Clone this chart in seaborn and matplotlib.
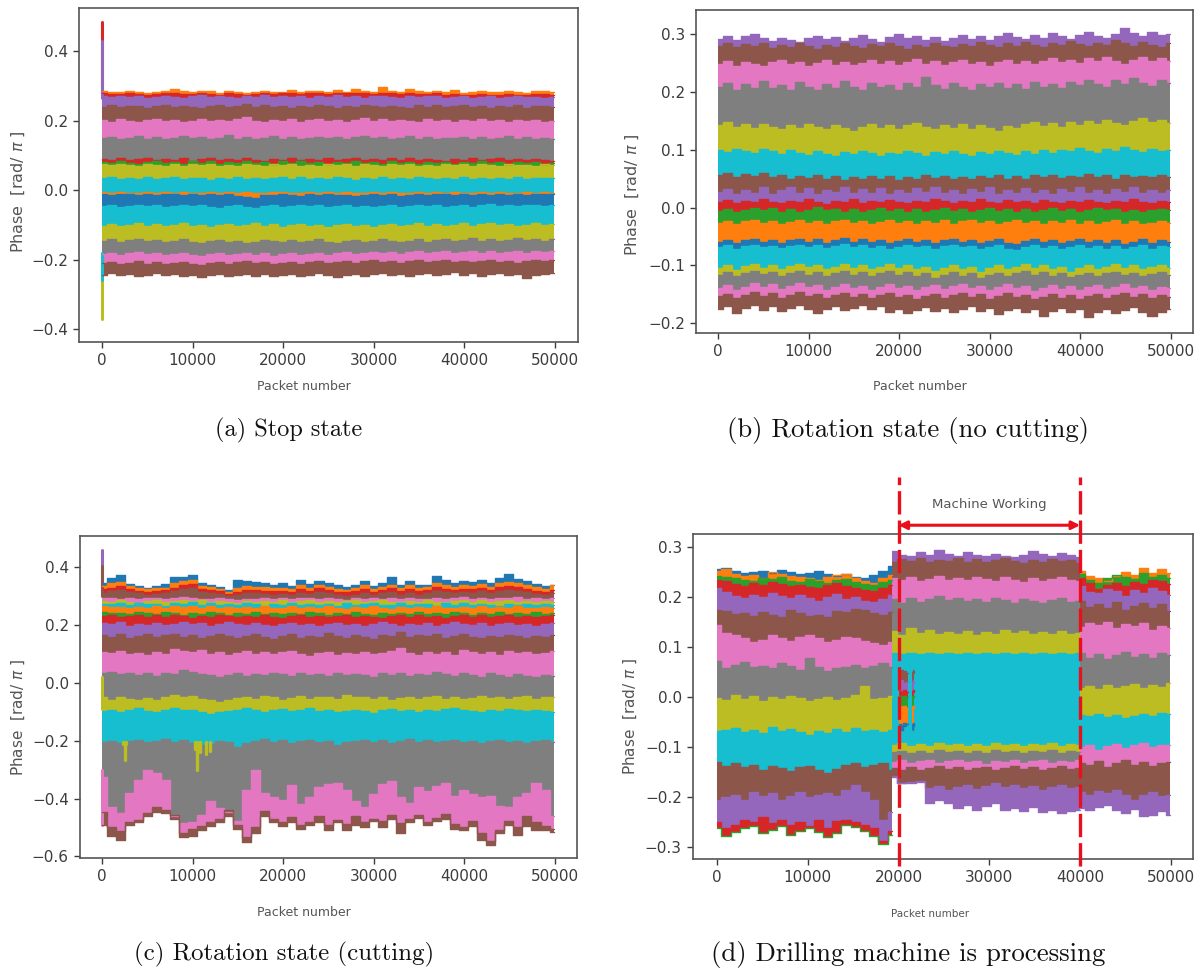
import numpy as np
import matplotlib
matplotlib.use("Agg")
import matplotlib.pyplot as plt
import seaborn as sns

# Each list is the upper edge of one coloured band, left to right.

# (a) stop state
a_orange = [286, 283, 281, 285, 283, 279, 281, 284, 291, 284, 282, 285, 284, 280, 286, 282, 280, 283, 285, 281, 283, 287, 282, 284, 285, 281, 287, 283, 291, 286, 283, 297, 285, 282, 290, 284, 283, 286, 281, 288, 280, 283, 284, 281, 282, 285, 281, 279, 284, 286, 282]
a_red = [279, 277, 276, 278, 277, 274, 276, 278, 279, 277, 276, 278, 277, 275, 279, 277, 275, 277, 279, 276, 278, 280, 277, 278, 279, 276, 279, 278, 280, 279, 277, 280, 278, 276, 279, 277, 276, 278, 274, 277, 274, 275, 277, 274, 275, 277, 274, 273, 276, 277, 275]
a_purple = [272, 268, 270, 267, 271, 265, 269, 272, 268, 266, 270, 273, 267, 271, 268, 265, 272, 269, 273, 267, 271, 268, 272, 266, 270, 267, 273, 269, 271, 266, 270, 272, 268, 265, 271, 267, 270, 272, 266, 269, 272, 266, 268, 271, 265, 269, 272, 267, 269, 266, 268]
a_brown = [240, 244, 238, 243, 241, 236, 242, 246, 238, 243, 240, 236, 241, 245, 238, 243, 247, 240, 244, 238, 241, 236, 243, 239, 245, 241, 237, 243, 240, 246, 242, 238, 243, 240, 237, 244, 240, 245, 238, 242, 244, 238, 241, 236, 243, 240, 245, 237, 241, 243, 238]
a_pink = [202, 197, 204, 199, 195, 201, 205, 198, 202, 196, 200, 206, 198, 203, 199, 204, 210, 200, 197, 203, 199, 205, 197, 202, 206, 198, 203, 197, 202, 207, 200, 205, 198, 203, 199, 196, 204, 199, 202, 197, 203, 199, 205, 198, 202, 196, 203, 199, 201, 197, 199]
a_gray = [149, 153, 146, 151, 155, 148, 152, 146, 150, 157, 149, 153, 147, 151, 160, 148, 152, 147, 151, 155, 148, 153, 147, 151, 154, 149, 153, 147, 152, 156, 149, 153, 147, 150, 155, 148, 153, 147, 151, 149, 154, 148, 152, 147, 151, 155, 148, 152, 146, 150, 147]
a_red2 = [90, 86, 91, 87, 89, 92, 86, 90, 87, 91, 85, 89, 92, 87, 90, 86, 91, 88, 85, 90, 87, 92, 86, 90, 87, 91, 86, 89, 92, 87, 90, 86, 91, 88, 92, 86, 90, 87, 85, 90, 87, 91, 86, 89, 92, 87, 90, 86, 89, 87, 85]
a_green = [82, 78, 84, 79, 75, 82, 85, 77, 81, 74, 83, 78, 84, 76, 82, 79, 85, 77, 81, 75, 83, 79, 84, 77, 80, 76, 82, 78, 84, 77, 81, 75, 83, 79, 80, 76, 82, 78, 81, 75, 82, 79, 84, 77, 80, 76, 82, 78, 81, 76, 79]
a_olive = [76, 71, 75, 72, 69, 76, 73, 70, 75, 68, 74, 71, 76, 70, 73, 69, 75, 72, 69, 74, 71, 76, 70, 73, 68, 75, 71, 74, 70, 76, 72, 68, 74, 71, 76, 70, 73, 69, 75, 71, 74, 70, 76, 72, 69, 75, 71, 73, 70, 74, 72]
a_cyan = [34, 37, 32, 36, 33, 38, 31, 35, 37, 32, 36, 34, 30, 36, 33, 38, 32, 35, 31, 36, 39, 33, 37, 31, 35, 32, 37, 34, 30, 36, 33, 38, 31, 35, 32, 37, 34, 31, 36, 33, 38, 32, 35, 31, 36, 33, 38, 32, 35, 34, 36]
a_orange2 = [-5, -7, -6, -9, -7, -5, -8, -6, -9, -5, -7, -8, -6, -9, -5, -7, -6, -8, -9, -6, -5, -7, -9, -6, -8, -5, -7, -6, -9, -7, -5, -8, -6, -7, -9, -6, -8, -5, -7, -6, -9, -7, -5, -8, -6, -9, -7, -6, -8, -5, -7]
a_blue = [-11, -13, -10, -12, -14, -11, -13, -10, -12, -15, -11, -13, -10, -14, -12, -16, -19, -22, -15, -13, -11, -14, -16, -12, -14, -11, -13, -15, -18, -13, -11, -14, -12, -17, -13, -11, -14, -12, -10, -13, -11, -14, -12, -15, -11, -13, -10, -14, -12, -11, -10]
a_cyan2 = [-46, -43, -48, -45, -42, -47, -44, -49, -45, -42, -47, -44, -48, -51, -46, -43, -48, -52, -47, -44, -49, -45, -42, -47, -44, -49, -46, -43, -48, -45, -50, -46, -43, -48, -45, -42, -47, -44, -49, -45, -43, -48, -44, -41, -46, -43, -47, -44, -42, -46, -44]
a_olive2 = [-102, -98, -104, -99, -96, -102, -98, -104, -100, -96, -103, -99, -106, -101, -98, -103, -99, -95, -102, -98, -105, -100, -97, -103, -99, -105, -101, -97, -103, -99, -106, -101, -98, -103, -99, -96, -102, -98, -104, -100, -96, -102, -98, -94, -101, -97, -103, -99, -96, -101, -98]
a_gray2 = [-146, -142, -148, -144, -141, -147, -143, -149, -145, -142, -148, -151, -147, -143, -149, -145, -152, -148, -143, -147, -150, -144, -149, -145, -142, -148, -152, -147, -143, -149, -145, -141, -147, -150, -145, -142, -148, -144, -141, -146, -143, -139, -145, -141, -146, -143, -139, -144, -141, -146, -142]
a_pink2 = [-184, -180, -186, -182, -179, -185, -181, -187, -183, -180, -186, -190, -184, -181, -187, -183, -180, -186, -182, -189, -185, -181, -187, -184, -180, -186, -182, -178, -184, -180, -177, -182, -178, -184, -179, -176, -182, -178, -175, -181, -177, -174, -180, -176, -182, -178, -175, -180, -176, -179, -175]
a_brown2 = [-211, -207, -213, -209, -205, -212, -208, -214, -210, -206, -212, -215, -209, -206, -212, -208, -205, -211, -207, -213, -209, -206, -212, -208, -204, -210, -206, -203, -209, -205, -201, -207, -203, -209, -205, -202, -208, -204, -200, -206, -203, -208, -204, -201, -207, -203, -209, -205, -202, -205, -200]
a_bottom = [-243, -239, -245, -241, -248, -243, -239, -245, -241, -247, -243, -250, -245, -241, -247, -243, -240, -246, -242, -248, -244, -240, -247, -243, -239, -245, -251, -244, -240, -246, -242, -238, -244, -240, -247, -242, -239, -245, -241, -237, -243, -239, -246, -241, -238, -244, -240, -252, -245, -241, -238]
a_spikes = [("red", 485, 275), ("purple", 430, 265), ("olive", -235, -370), ("cyan", -180, -260)]

# (b) rotation state, no cutting
b_purple = [292, 297, 290, 296, 300, 293, 288, 294, 290, 286, 293, 297, 291, 295, 288, 293, 299, 292, 286, 295, 301, 293, 297, 290, 295, 288, 294, 299, 292, 296, 290, 297, 302, 295, 291, 298, 294, 302, 296, 291, 299, 304, 297, 293, 300, 311, 302, 296, 303, 298, 301]
b_brown = [280, 284, 277, 283, 279, 285, 276, 281, 277, 284, 279, 275, 282, 278, 285, 280, 276, 283, 279, 285, 280, 275, 282, 278, 284, 280, 277, 283, 279, 286, 281, 277, 284, 280, 287, 282, 278, 285, 281, 288, 283, 279, 285, 281, 289, 284, 279, 286, 282, 278, 284]
b_pink = [248, 253, 245, 252, 248, 244, 251, 256, 248, 252, 245, 250, 255, 247, 252, 246, 250, 256, 249, 253, 246, 251, 257, 249, 253, 246, 251, 255, 248, 252, 245, 251, 256, 249, 254, 248, 253, 259, 251, 255, 250, 258, 253, 260, 254, 249, 256, 261, 254, 258, 253]
b_gray = [208, 216, 204, 213, 207, 219, 206, 212, 204, 217, 209, 203, 214, 207, 219, 208, 203, 215, 208, 212, 204, 216, 209, 226, 212, 205, 215, 209, 203, 214, 208, 216, 207, 213, 205, 217, 209, 214, 207, 218, 212, 220, 214, 209, 220, 213, 224, 216, 211, 221, 215]
b_olive = [143, 148, 139, 145, 137, 144, 140, 135, 142, 137, 145, 140, 135, 143, 138, 133, 140, 145, 138, 143, 136, 142, 146, 139, 135, 143, 138, 145, 136, 142, 137, 133, 141, 137, 144, 148, 141, 146, 140, 148, 143, 150, 145, 152, 146, 142, 149, 155, 148, 152, 147]
b_cyan = [100, 96, 102, 98, 95, 101, 97, 93, 99, 95, 91, 97, 93, 90, 96, 92, 98, 94, 90, 95, 92, 98, 94, 89, 96, 92, 97, 93, 90, 96, 92, 97, 94, 91, 97, 93, 99, 95, 100, 97, 103, 98, 95, 101, 97, 104, 100, 96, 102, 98, 100]
b_brown2 = [56, 60, 53, 58, 54, 59, 52, 56, 50, 55, 51, 57, 50, 54, 48, 53, 49, 55, 50, 54, 48, 53, 50, 56, 51, 55, 49, 53, 50, 55, 51, 56, 49, 54, 50, 56, 52, 57, 51, 55, 53, 58, 52, 56, 50, 57, 53, 55, 52, 56, 52]
b_purple2 = [27, 32, 23, 31, 26, 35, 24, 30, 36, 26, 33, 24, 31, 27, 35, 25, 32, 26, 34, 24, 30, 25, 33, 27, 35, 25, 31, 24, 32, 27, 35, 24, 30, 26, 34, 25, 31, 24, 32, 27, 35, 25, 30, 24, 32, 27, 35, 25, 30, 26, 31]
b_red = [10, 13, 8, 12, 9, 14, 10, 7, 12, 9, 15, 10, 6, 12, 9, 14, 8, 12, 9, 13, 10, 7, 12, 9, 14, 11, 8, 12, 9, 14, 10, 7, 13, 9, 12, 8, 13, 10, 7, 12, 9, 13, 10, 8, 12, 9, 14, 10, 7, 11, 9]
b_green = [-6, -2, -8, -4, 0, -5, -1, -7, -3, -8, -4, 1, -5, -2, -7, -3, -8, -4, 0, -6, -2, -7, -3, -8, -5, -1, -6, -3, -8, -4, 0, -6, -2, -7, -3, -8, -4, -1, -6, -3, -7, -4, 0, -5, -2, -7, -4, -8, -5, -2, -5]
b_orange = [-27, -23, -29, -24, -21, -27, -23, -28, -25, -21, -27, -23, -29, -24, -21, -27, -23, -29, -25, -22, -27, -24, -29, -23, -26, -22, -28, -24, -21, -27, -23, -29, -25, -21, -27, -24, -29, -23, -26, -22, -28, -24, -29, -25, -22, -28, -24, -29, -26, -23, -27]
b_blue = [-59, -56, -62, -57, -54, -60, -56, -61, -57, -54, -59, -55, -61, -57, -53, -59, -55, -60, -56, -62, -58, -54, -60, -56, -61, -57, -54, -59, -56, -62, -58, -55, -61, -63, -58, -55, -60, -56, -62, -58, -54, -60, -56, -61, -57, -63, -59, -55, -61, -57, -60]
b_cyan2 = [-68, -65, -71, -67, -64, -69, -66, -70, -67, -64, -69, -65, -70, -67, -63, -68, -65, -70, -67, -71, -68, -64, -69, -66, -71, -67, -64, -69, -66, -71, -68, -65, -71, -73, -68, -65, -70, -66, -71, -68, -64, -70, -66, -71, -67, -72, -69, -65, -71, -67, -69]
b_olive2 = [-105, -100, -108, -101, -97, -104, -99, -106, -101, -97, -103, -100, -107, -102, -98, -104, -100, -107, -102, -98, -105, -100, -107, -102, -110, -104, -100, -106, -102, -111, -105, -100, -107, -102, -98, -105, -100, -107, -102, -112, -105, -100, -107, -102, -98, -105, -100, -107, -102, -99, -104]
b_gray2 = [-116, -112, -119, -113, -110, -115, -111, -118, -113, -110, -116, -112, -119, -114, -110, -116, -112, -118, -113, -110, -116, -112, -119, -114, -122, -116, -112, -118, -114, -122, -117, -113, -119, -114, -110, -116, -112, -119, -114, -121, -117, -113, -119, -114, -111, -117, -113, -119, -115, -112, -116]
b_pink2 = [-139, -134, -142, -137, -131, -138, -133, -141, -136, -130, -138, -134, -142, -137, -132, -139, -135, -142, -137, -133, -140, -136, -143, -138, -134, -141, -136, -132, -139, -135, -143, -138, -133, -140, -136, -144, -139, -134, -141, -136, -143, -138, -134, -141, -137, -132, -140, -135, -142, -137, -139]
b_brown3 = [-153, -149, -157, -151, -146, -153, -148, -156, -151, -146, -153, -149, -157, -152, -147, -154, -150, -157, -152, -148, -155, -151, -158, -153, -149, -156, -151, -147, -154, -150, -158, -153, -148, -155, -151, -159, -154, -149, -156, -151, -158, -153, -149, -156, -152, -147, -155, -150, -157, -152, -154]
b_bottom = [-176, -170, -182, -174, -168, -177, -171, -179, -174, -169, -176, -182, -175, -170, -178, -173, -168, -176, -171, -180, -175, -183, -177, -172, -179, -174, -181, -176, -171, -179, -174, -184, -178, -173, -180, -175, -187, -179, -174, -181, -176, -190, -180, -175, -183, -177, -172, -181, -187, -180, -176]

# (c) rotation state, cutting
c_blue = [345, 362, 375, 342, 335, 330, 336, 342, 368, 366, 374, 345, 340, 332, 322, 355, 352, 350, 346, 339, 345, 335, 358, 342, 352, 347, 338, 332, 340, 352, 335, 345, 368, 340, 352, 338, 340, 372, 355, 345, 352, 348, 358, 345, 362, 378, 360, 352, 342, 335, 338]
c_orange = [335, 345, 350, 335, 328, 325, 328, 330, 345, 352, 355, 335, 332, 326, 316, 330, 335, 333, 332, 328, 330, 325, 338, 330, 340, 332, 326, 322, 330, 338, 324, 332, 340, 328, 338, 328, 332, 345, 338, 332, 338, 335, 342, 332, 345, 350, 345, 338, 332, 325, 340]
c_red = [325, 330, 335, 325, 320, 316, 318, 322, 330, 338, 342, 326, 322, 318, 308, 316, 322, 322, 320, 318, 320, 316, 325, 320, 328, 322, 316, 314, 318, 326, 316, 322, 328, 318, 325, 318, 322, 332, 326, 322, 326, 324, 330, 322, 332, 336, 332, 326, 320, 315, 322]
c_brown = [312, 318, 322, 315, 310, 306, 308, 312, 318, 324, 328, 316, 312, 308, 300, 304, 310, 310, 308, 306, 308, 304, 312, 308, 316, 310, 305, 302, 306, 312, 304, 310, 316, 306, 312, 306, 310, 318, 314, 310, 314, 312, 318, 310, 320, 322, 318, 314, 308, 304, 310]
c_pink = [293, 295, 290, 294, 290, 293, 296, 290, 294, 298, 296, 292, 290, 294, 290, 288, 292, 290, 294, 291, 295, 290, 293, 296, 290, 294, 291, 288, 293, 290, 295, 291, 294, 290, 296, 292, 290, 295, 291, 294, 297, 292, 295, 291, 296, 293, 298, 292, 295, 291, 294]
c_olive = [284, 280, 286, 281, 278, 284, 287, 280, 285, 289, 284, 287, 280, 284, 281, 277, 283, 280, 285, 279, 286, 281, 284, 288, 280, 285, 279, 283, 287, 280, 284, 288, 282, 279, 285, 280, 287, 282, 279, 285, 288, 282, 286, 279, 284, 287, 281, 285, 279, 283, 282]
c_cyan = [275, 272, 278, 270, 276, 272, 274, 268, 277, 273, 279, 271, 276, 269, 274, 270, 277, 272, 268, 275, 271, 278, 269, 275, 271, 274, 268, 276, 270, 274, 278, 271, 269, 276, 270, 275, 272, 268, 276, 271, 277, 269, 274, 271, 268, 275, 270, 273, 269, 274, 270]
c_orange2 = [266, 262, 264, 258, 263, 260, 265, 258, 267, 262, 268, 261, 265, 259, 263, 258, 264, 260, 266, 261, 258, 265, 259, 263, 258, 265, 260, 257, 263, 259, 265, 261, 257, 264, 258, 263, 259, 265, 261, 258, 264, 260, 266, 259, 263, 258, 265, 261, 258, 262, 259]
c_green = [246, 241, 243, 238, 246, 242, 240, 245, 241, 237, 243, 238, 245, 241, 236, 243, 239, 245, 240, 244, 238, 243, 240, 246, 241, 237, 243, 239, 245, 240, 236, 243, 238, 244, 240, 245, 239, 243, 238, 245, 241, 237, 243, 240, 245, 239, 242, 238, 245, 240, 243]
c_red2 = [232, 235, 228, 233, 237, 230, 234, 229, 236, 231, 226, 233, 229, 235, 231, 227, 233, 229, 235, 230, 226, 232, 236, 229, 233, 227, 232, 236, 228, 233, 229, 226, 233, 236, 230, 234, 228, 232, 226, 233, 237, 230, 234, 228, 232, 236, 229, 233, 227, 232, 235]
c_purple = [207, 203, 210, 198, 206, 202, 209, 200, 205, 211, 203, 207, 199, 205, 212, 204, 200, 207, 201, 196, 204, 208, 200, 206, 199, 204, 209, 201, 205, 197, 203, 210, 204, 198, 206, 201, 208, 199, 205, 212, 203, 200, 207, 198, 204, 209, 201, 206, 199, 204, 208]
c_brown2 = [166, 160, 169, 155, 163, 168, 158, 165, 171, 160, 166, 156, 164, 170, 161, 155, 163, 168, 158, 153, 162, 168, 157, 164, 160, 172, 163, 157, 165, 160, 154, 166, 161, 178, 158, 165, 162, 168, 156, 163, 169, 160, 155, 164, 158, 165, 161, 156, 163, 159, 166]
c_pink2 = [108, 104, 111, 100, 105, 98, 109, 102, 118, 112, 106, 115, 101, 108, 97, 103, 110, 99, 106, 101, 108, 112, 100, 95, 105, 109, 98, 104, 101, 108, 99, 104, 112, 120, 103, 98, 107, 101, 109, 96, 115, 108, 100, 106, 98, 112, 103, 108, 99, 105, 110]
c_gray = [33, 38, 30, 36, 28, 34, 24, 35, 30, 45, 38, 30, 26, 20, 27, 33, 24, 31, 26, 36, 30, 24, 34, 27, 32, 24, 36, 28, 32, 26, 22, 33, 27, 35, 25, 30, 27, 38, 30, 24, 33, 27, 22, 35, 27, 20, 31, 25, 22, 29, 24]
c_olive2 = [-50, -58, -47, -55, -60, -52, -58, -48, -42, -50, -45, -55, -58, -65, -60, -52, -48, -55, -46, -50, -58, -52, -46, -55, -50, -48, -56, -42, -50, -47, -55, -50, -58, -53, -48, -55, -50, -46, -54, -48, -57, -52, -45, -52, -48, -55, -50, -46, -54, -50, -48]
c_cyan2 = [-98, -92, -100, -95, -88, -97, -102, -95, -88, -92, -95, -100, -108, -102, -96, -92, -88, -95, -100, -94, -90, -97, -92, -88, -97, -93, -100, -96, -92, -98, -105, -95, -89, -96, -92, -101, -94, -98, -90, -85, -93, -96, -100, -93, -97, -90, -94, -98, -92, -96, -100]
c_gray2 = [-205, -200, -208, -202, -198, -206, -200, -195, -204, -199, -207, -215, -210, -202, -206, -222, -208, -200, -195, -204, -199, -207, -201, -196, -205, -200, -214, -206, -200, -196, -204, -199, -207, -200, -195, -204, -198, -206, -201, -196, -205, -200, -207, -202, -197, -205, -200, -207, -202, -198, -205]
c_pink3 = [-325, -428, -450, -380, -336, -300, -312, -335, -462, -485, -482, -458, -410, -432, -445, -478, -372, -302, -382, -395, -405, -352, -418, -395, -359, -350, -345, -372, -410, -428, -385, -350, -338, -395, -415, -360, -375, -355, -345, -390, -372, -385, -395, -392, -425, -430, -395, -380, -345, -370, -462]
c_brown3 = [-445, -500, -512, -480, -475, -450, -428, -440, -458, -520, -506, -495, -480, -470, -440, -490, -535, -500, -442, -470, -480, -465, -490, -482, -462, -492, -474, -488, -462, -482, -470, -478, -458, -486, -470, -458, -480, -466, -452, -488, -500, -478, -520, -548, -510, -478, -500, -462, -480, -495, -506]
c_bottom = [-490, -530, -545, -490, -480, -462, -445, -450, -470, -535, -530, -510, -495, -480, -462, -505, -550, -520, -460, -480, -495, -480, -505, -490, -480, -510, -482, -510, -492, -500, -478, -500, -470, -520, -480, -468, -490, -478, -470, -505, -510, -495, -545, -560, -520, -490, -525, -495, -510, -510, -515]
c_spikes = [("purple", 460, 310), ("brown", 405, 300), ("olive", 20, -90), ("pink", -300, -490)]
# olive blips that stick out under the cyan band: packet, bottom
c_blip_packet = [2300, 2500, 2700, 10300, 10500, 10800, 11500, 11900]
c_blip_low = [-210, -265, -210, -230, -300, -240, -245, -235]

# (d) drilling machine, before the jump
d1_blue = [256, 259, 252, 249, 251, 253, 248, 255, 251, 247, 249, 252, 246, 243, 246, 241, 238, 245, 252, 262]
d1_orange = [252, 256, 247, 242, 245, 238, 250, 247, 243, 240, 238, 235, 240, 244, 246, 238, 233, 228, 238, 245]
d1_green = [243, 240, 238, 235, 233, 238, 236, 240, 233, 230, 236, 232, 228, 234, 237, 231, 226, 224, 230, 235]
d1_red = [235, 232, 226, 223, 228, 224, 230, 226, 222, 225, 220, 218, 224, 228, 222, 218, 215, 212, 218, 225]
d1_purple = [218, 210, 203, 198, 205, 200, 208, 203, 198, 204, 199, 193, 201, 206, 196, 200, 193, 190, 196, 205]
d1_brown = [175, 172, 166, 168, 163, 170, 165, 160, 175, 168, 163, 165, 160, 172, 170, 176, 174, 168, 165, 170]
d1_pink = [145, 128, 125, 118, 110, 115, 125, 118, 112, 120, 125, 118, 110, 115, 120, 118, 112, 108, 105, 110]
d1_gray = [72, 58, 65, 70, 60, 63, 58, 68, 62, 55, 78, 60, 52, 58, 60, 65, 58, 62, 68, 60]
d1_olive = [-2, -5, 5, -3, 2, -7, 0, -4, 3, -1, -8, -3, 1, -6, -2, 5, 22, -4, -2, 2]
d1_cyan = [-68, -66, -62, -70, -65, -72, -60, -68, -63, -70, -75, -68, -72, -64, -70, -62, -68, -65, -70, -66]
d1_brown2 = [-130, -138, -132, -140, -135, -145, -138, -142, -148, -140, -137, -146, -152, -143, -135, -132, -140, -135, -132, -145]
d1_purple2 = [-205, -200, -195, -205, -190, -198, -192, -205, -198, -190, -200, -195, -192, -198, -185, -175, -190, -205, -245, -230]
d1_red2 = [-250, -262, -255, -245, -250, -240, -252, -245, -255, -250, -258, -246, -262, -248, -245, -250, -255, -262, -288, -268]
d1_bottom = [-262, -278, -270, -262, -258, -272, -265, -258, -275, -268, -262, -270, -280, -272, -255, -260, -268, -278, -294, -275]

# (d) while the machine is working
d2_purple = [292, 284, 282, 290, 285, 294, 286, 283, 291, 284, 282, 287, 283, 280, 284, 292, 286, 283, 289, 284, 280]
d2_brown = [270, 276, 272, 278, 270, 275, 272, 278, 271, 276, 270, 274, 278, 272, 269, 275, 271, 277, 272, 274, 268]
d2_pink = [238, 234, 240, 232, 237, 243, 235, 239, 234, 241, 236, 233, 240, 235, 231, 238, 233, 236, 240, 234, 232]
d2_gray = [196, 188, 198, 191, 197, 202, 194, 199, 192, 197, 191, 199, 194, 189, 197, 192, 188, 195, 199, 191, 193]
d2_olive = [132, 125, 138, 128, 134, 126, 130, 127, 132, 125, 131, 127, 134, 128, 132, 126, 130, 126, 132, 127, 129]
d2_cyan = [88, 86, 88, 87, 89, 86, 88, 87, 89, 87, 88, 86, 88, 87, 89, 87, 88, 86, 88, 87, 88]
d2_olive2 = [-96, -92, -97, -93, -98, -92, -96, -94, -98, -93, -97, -92, -96, -94, -98, -93, -96, -92, -97, -93, -95]
d2_gray2 = [-110, -107, -112, -108, -111, -106, -110, -108, -112, -107, -111, -106, -109, -108, -112, -107, -110, -106, -111, -107, -109]
d2_pink2 = [-130, -126, -132, -128, -125, -131, -127, -125, -130, -128, -133, -127, -130, -126, -132, -128, -125, -131, -127, -130, -126]
d2_brown2 = [-142, -145, -140, -146, -142, -138, -144, -140, -146, -142, -139, -145, -141, -138, -144, -140, -146, -141, -138, -144, -142]
d2_purple2 = [-158, -172, -170, -168, -182, -178, -185, -180, -175, -183, -178, -172, -180, -176, -182, -178, -185, -180, -176, -182, -180]
d2_bottom = [-160, -172, -172, -170, -212, -205, -212, -222, -215, -225, -218, -212, -225, -222, -228, -220, -230, -225, -232, -228, -225]

# (d) small bit of the lower lines showing through just after the jump
d_bit_brown = [50, 55, 52, 48]
d_bit_purple = [30, 34, 28, 31]
d_bit_red = [12, 10, 14, 11]
d_bit_green = [2, 0, 3, 1]
d_bit_orange = [-18, -20, -17, -21]
d_bit_blue = [-53, -55, -52, -54]
d_bit_bottom = [-64, -66, -58, -54]

# (d) after the machine stops
d3_orange = [252, 243, 238, 232, 243, 250, 245, 258, 248, 256, 248]
d3_green = [246, 235, 228, 238, 244, 240, 236, 248, 240, 244, 238]
d3_red = [238, 228, 216, 225, 228, 222, 230, 226, 235, 232, 226]
d3_purple = [222, 210, 208, 216, 212, 203, 215, 208, 218, 212, 205]
d3_brown = [192, 180, 186, 178, 190, 175, 182, 188, 178, 186, 172]
d3_pink = [140, 148, 144, 150, 138, 146, 142, 148, 135, 143, 138]
d3_gray = [88, 78, 86, 76, 84, 90, 80, 86, 78, 88, 84]
d3_olive = [18, 22, 16, 24, 18, 22, 26, 18, 24, 20, 28]
d3_cyan = [-35, -38, -33, -40, -36, -42, -37, -34, -38, -32, -34]
d3_pink2 = [-100, -95, -105, -98, -93, -102, -96, -92, -100, -95, -96]
d3_brown2 = [-132, -136, -128, -140, -132, -126, -135, -130, -138, -132, -130]
d3_purple2 = [-190, -196, -188, -192, -186, -195, -205, -196, -190, -198, -195]
d3_bottom = [-222, -226, -220, -215, -225, -232, -224, -238, -235, -228, -235]

x_ticks = [0, 10000, 20000, 30000, 40000, 50000]
working_from = 20000
working_to = 40000

sns.set_theme(style="ticks")
plt.rcParams["font.family"] = "DejaVu Sans"
plt.rcParams["mathtext.fontset"] = "dejavusans"
colors = dict(zip(["blue", "orange", "green", "red", "purple", "brown", "pink", "gray", "olive", "cyan"],
                  sns.color_palette("tab10")))


def draw_stack(ax, bands, start=0, end=49900):
    # paint from the top band down, every band reaches to the bottom edge
    bottom = np.array(bands[-1][1]) / 1000
    x_bottom = np.linspace(start, end, len(bottom))
    for name, edge in bands:
        y = np.array(edge) / 1000
        x = np.linspace(start, end, len(y))
        ax.fill_between(x, y, np.interp(x, x_bottom, bottom), color=colors[name], lw=0, step="mid")
        sns.lineplot(x=x, y=y, color=colors[name], lw=1.0, estimator=None, drawstyle="steps-mid", ax=ax)


def draw_spikes(ax, spikes):
    for name, high, low in spikes:
        sns.lineplot(x=[0, 0], y=[high / 1000, low / 1000], color=colors[name], lw=2.2,
                     estimator=None, sort=False, ax=ax)


def make_axes(left, top, right, bottom, xlim, ylim, yticks, xlabel_x, xlabel_y, ylabel_x, ylabel_y,
              caption, cap_x, cap_y, cap_size=17.5, lab_size=9, ylab_size=11.5):
    ax = fig.add_axes([left / 1200, (969 - bottom) / 969, (right - left) / 1200, (bottom - top) / 969])
    ax.set_xlim(xlim)
    ax.set_ylim(ylim)
    ax.set_xticks(x_ticks)
    ax.set_yticks(yticks)
    ax.tick_params(labelsize=11, colors="#3c3c3c", length=4, width=1, pad=4)
    for s in ax.spines.values():
        s.set_color("#555555")
        s.set_linewidth(1.2)
        s.set_visible(True)
    fig.text(xlabel_x / 1200, 1 - xlabel_y / 969, "Packet number", ha="center", va="center",
             fontsize=lab_size, color="#555555")
    fig.text(ylabel_x / 1200, 1 - ylabel_y / 969, r"Phase  [rad/ $\pi$ ]", rotation=90, ha="center", va="center",
             fontsize=ylab_size, color="#555555")
    fig.text(cap_x / 1200, 1 - cap_y / 969, caption, ha="center", va="center", fontsize=cap_size,
             family="cmr10", color="#111111")
    return ax


fig = plt.figure(figsize=(12, 9.69), dpi=100)

ax_a = make_axes(79, 8, 578, 342, (-2540, 52550), (-0.437, 0.524), [-0.4, -0.2, 0.0, 0.2, 0.4],
                 304, 387, 18, 192, "(a) Stop state", 289, 430)
draw_spikes(ax_a, a_spikes)
draw_stack(ax_a, [("orange", a_orange), ("red", a_red), ("purple", a_purple), ("brown", a_brown), ("pink", a_pink),
                  ("gray", a_gray), ("red", a_red2), ("green", a_green), ("olive", a_olive), ("cyan", a_cyan),
                  ("orange", a_orange2), ("blue", a_blue), ("cyan", a_cyan2), ("olive", a_olive2), ("gray", a_gray2),
                  ("pink", a_pink2), ("brown", a_brown2), ("brown", a_bottom)])

ax_b = make_axes(696, 10, 1193, 333, (-2430, 52430), (-0.217, 0.3417), [-0.2, -0.1, 0.0, 0.1, 0.2, 0.3],
                 920, 387, 632, 195, "(b) Rotation state (no cutting)", 908, 430, cap_size=19.2)
draw_stack(ax_b, [("purple", b_purple), ("brown", b_brown), ("pink", b_pink), ("gray", b_gray), ("olive", b_olive),
                  ("cyan", b_cyan), ("brown", b_brown2), ("purple", b_purple2), ("red", b_red), ("green", b_green),
                  ("orange", b_orange), ("blue", b_blue), ("cyan", b_cyan2), ("olive", b_olive2), ("gray", b_gray2),
                  ("pink", b_pink2), ("brown", b_brown3), ("brown", b_bottom)])

ax_c = make_axes(80, 536, 577, 858, (-2430, 52430), (-0.606, 0.509), [-0.6, -0.4, -0.2, 0.0, 0.2, 0.4],
                 304, 913, 18, 717, "(c) Rotation state (cutting)", 284, 954, cap_size=17.9, ylab_size=11)
draw_spikes(ax_c, c_spikes)
draw_stack(ax_c, [("blue", c_blue), ("orange", c_orange), ("red", c_red), ("brown", c_brown), ("pink", c_pink),
                  ("olive", c_olive), ("cyan", c_cyan), ("orange", c_orange2), ("green", c_green), ("red", c_red2),
                  ("purple", c_purple), ("brown", c_brown2), ("pink", c_pink2), ("gray", c_gray), ("olive", c_olive2),
                  ("cyan", c_cyan2), ("gray", c_gray2), ("pink", c_pink3), ("brown", c_brown3), ("brown", c_bottom)])
for packet, low in zip(c_blip_packet, c_blip_low):
    sns.lineplot(x=[packet, packet], y=[-0.205, low / 1000], color=colors["olive"], lw=2.4,
                 estimator=None, sort=False, ax=ax_c)

ax_d = make_axes(693, 534, 1193, 859, (-2630, 52430), (-0.324, 0.326), [-0.3, -0.2, -0.1, 0.0, 0.1, 0.2, 0.3],
                 930, 914, 630, 716, "(d) Drilling machine is processing", 908, 954, cap_size=19.3, lab_size=7.5, ylab_size=11)
draw_stack(ax_d, [("blue", d1_blue), ("orange", d1_orange), ("green", d1_green), ("red", d1_red),
                  ("purple", d1_purple), ("brown", d1_brown), ("pink", d1_pink), ("gray", d1_gray), ("olive", d1_olive),
                  ("cyan", d1_cyan), ("brown", d1_brown2), ("purple", d1_purple2), ("red", d1_red2), ("green", d1_bottom)],
           end=19300)
draw_stack(ax_d, [("purple", d2_purple), ("brown", d2_brown), ("pink", d2_pink), ("gray", d2_gray), ("olive", d2_olive),
                  ("cyan", d2_cyan), ("olive", d2_olive2), ("gray", d2_gray2), ("pink", d2_pink2),
                  ("brown", d2_brown2), ("purple", d2_purple2), ("purple", d2_bottom)], start=19300, end=40000)
bit_bands = [("brown", d_bit_brown), ("purple", d_bit_purple), ("red", d_bit_red), ("green", d_bit_green),
             ("orange", d_bit_orange), ("blue", d_bit_blue), ("blue", d_bit_bottom)]
draw_stack(ax_d, bit_bands, start=20100, end=21000)
draw_stack(ax_d, bit_bands, start=21500, end=21750)
draw_stack(ax_d, [("orange", d3_orange), ("green", d3_green), ("red", d3_red), ("purple", d3_purple),
                  ("brown", d3_brown), ("pink", d3_pink), ("gray", d3_gray), ("olive", d3_olive), ("cyan", d3_cyan),
                  ("pink", d3_pink2), ("brown", d3_brown2), ("purple", d3_purple2), ("purple", d3_bottom)],
           start=40000, end=49900)

# red markers of the working period, they run out of the axes
trans = ax_d.get_xaxis_transform()
for packet in [working_from, working_to]:
    ax_d.plot([packet, packet], [-0.02, 1.175], color="#e8101c", lw=2.4, ls=(0, (7, 1.8)),
              transform=trans, clip_on=False, zorder=5)
ax_d.annotate("", xy=(working_from, 1.027), xytext=(working_to, 1.027), xycoords=trans, textcoords=trans,
              arrowprops=dict(arrowstyle="<|-|>", color="#e8101c", lw=2.2, shrinkA=0, shrinkB=0), annotation_clip=False)
ax_d.text((working_from + working_to) / 2, 1.09, "Machine Working", transform=trans, ha="center", va="center",
          fontsize=9.5, color="#555555")

fig.savefig("out.png", dpi=100)
